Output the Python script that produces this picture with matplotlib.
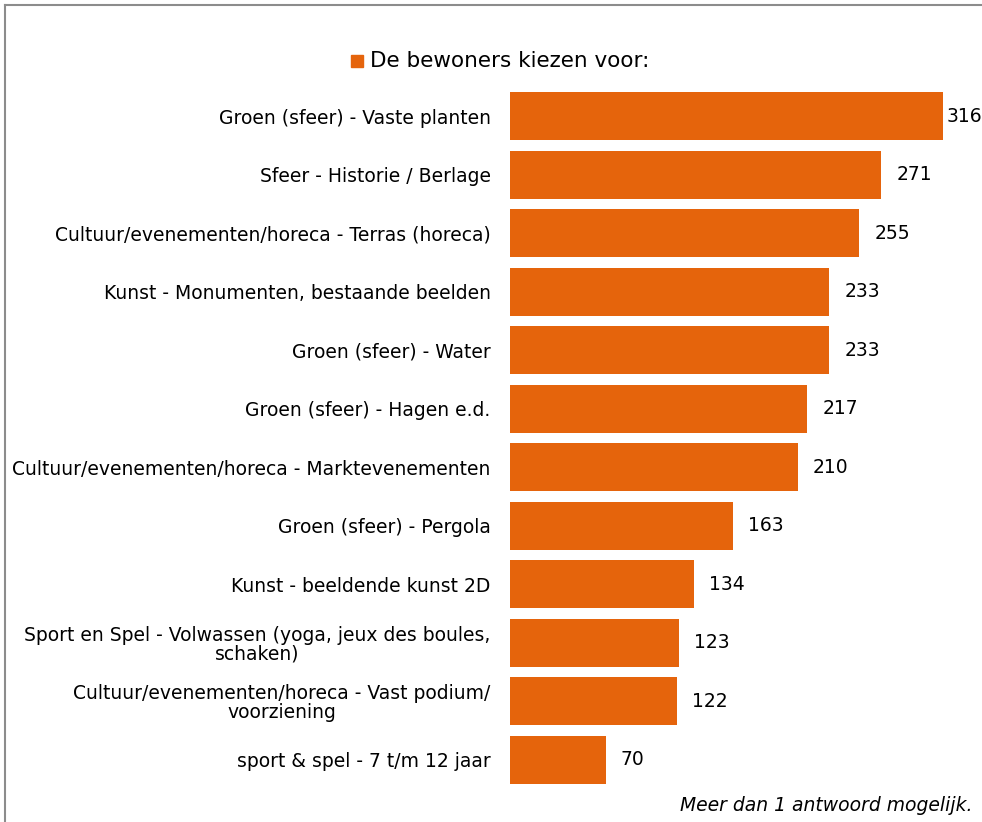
import matplotlib.pyplot as plt
from matplotlib.lines import Line2D
from matplotlib.patches import Rectangle

# data, top to bottom
categories = [
    'Groen (sfeer) - Vaste planten',
    'Sfeer - Historie / Berlage',
    'Cultuur/evenementen/horeca - Terras (horeca)',
    'Kunst - Monumenten, bestaande beelden',
    'Groen (sfeer) - Water',
    'Groen (sfeer) - Hagen e.d.',
    'Cultuur/evenementen/horeca - Marktevenementen',
    'Groen (sfeer) - Pergola',
    'Kunst - beeldende kunst 2D',
    'Sport en Spel - Volwassen (yoga, jeux des boules,\nschaken)',
    'Cultuur/evenementen/horeca - Vast podium/\nvoorziening',
    'sport & spel - 7 t/m 12 jaar',
]
values = [316, 271, 255, 233, 233, 217, 210, 163, 134, 123, 122, 70]
legend_label = 'De bewoners kiezen voor:'
footnote = 'Meer dan 1 antwoord mogelijk.'

ORANGE = '#E5640C'
W, H = 982, 822
FS = 13.5

plt.rcParams['font.family'] = 'DejaVu Sans'

fig = plt.figure(figsize=(W / 100, H / 100), dpi=100)
# axes: left edge at 510 px, right at 982 px, top 87 px, bottom 789 px
ax = fig.add_axes([510 / W, 1 - 789 / H, (W - 510) / W, (789 - 87) / H])

pos = list(range(len(values)))
ax.barh(pos, values, height=0.82, color=ORANGE, edgecolor='none')
ax.set_ylim(len(values) - 0.5, -0.5)
ax.set_xlim(0, (W - 510) / 1.37)

ax.set_yticks(pos)
ax.set_yticklabels(categories, fontsize=FS)
for lbl in ax.get_yticklabels():
    lbl.set_multialignment('center')
    lbl.set_linespacing(1.0)
ax.tick_params(axis='y', length=0, pad=14)
ax.set_xticks([])
for s in ax.spines.values():
    s.set_visible(False)

vmax = max(values)
for p, v in zip(pos, values):
    off = 4 if v == vmax else 15
    ax.annotate(str(v), (v, p), xytext=(off, 0), textcoords='offset pixels',
                ha='left', va='center', fontsize=FS)

# legend
fig.add_artist(Rectangle((351 / W, 1 - 67 / H), 12 / W, 12 / H,
                         transform=fig.transFigure, color=ORANGE))
fig.text(370 / W, 1 - 61 / H, legend_label, ha='left', va='center', fontsize=15.5)

fig.text(972 / W, 1 - 805 / H, footnote, ha='right', va='center',
         fontsize=FS, style='italic')

# frame around the chart (left and top visible)
fig.add_artist(Line2D([4.5 / W, 4.5 / W], [0, 1 - 5 / H], color='#8c8c8c', lw=1.5))
fig.add_artist(Line2D([4.5 / W, 1], [1 - 5 / H, 1 - 5 / H], color='#8c8c8c', lw=1.5))

fig.savefig('out.png', dpi=100)
